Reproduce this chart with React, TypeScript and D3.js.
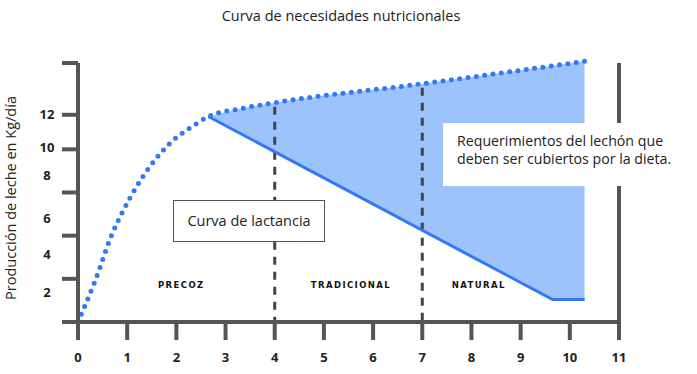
import React, { useEffect, useRef } from "react";
import * as d3 from "d3";

// Requirement curve (dotted), [age in weeks, kg/day]
const requirement: [number, number][] = [
  [0, 0],
  [0.35, 2.4],
  [0.68, 5.0],
  [1.06, 7.2],
  [1.46, 9.0],
  [1.87, 10.35],
  [2.42, 11.5],
  [2.65, 11.9],
  [3.3, 12.35],
  [4, 12.7],
  [7, 13.8],
  [10.3, 15.1],
];

// Lactation curve (solid)
const lactation: [number, number][] = [
  [2.65, 11.9],
  [9.65, 1.3],
  [10.3, 1.3],
];

const xTicks = [0, 1, 2, 3, 4, 5, 6, 7, 8, 9, 10, 11];
const yTickMarks = [2.5, 5, 7.5, 10, 12, 15];
const yLabels = ["2", "4", "6", "8", "10", "12"];
const yLabelAt = [1.7, 3.9, 6.0, 8.5, 10.1, 12.0];
const phaseBreaks = [4, 7];
const phases = ["PRECOZ", "TRADICIONAL", "NATURAL"];
const phaseAt = [2.1, 5.55, 8.15];

const W = 697;
const H = 374;
const AXIS = "#555555";
const BLUE = "#3479f3";
const FILL = "#9dc3fd";
const FONT = "'Open Sans', 'Noto Sans', sans-serif";

const Chart: React.FC = () => {
  const svgRef = useRef<SVGSVGElement | null>(null);

  useEffect(() => {
    const svg = d3.select(svgRef.current);
    svg.selectAll("*").remove();

    const x = d3.scaleLinear().domain([0, 11]).range([78, 619]);
    const y = d3.scaleLinear().domain([0, 15]).range([322, 63]);

    // title
    svg
      .append("text")
      .attr("x", 341)
      .attr("y", 21)
      .attr("text-anchor", "middle")
      .attr("font-family", FONT)
      .attr("font-size", 14.5)
      .attr("fill", "#222")
      .text("Curva de necesidades nutricionales");

    // y axis title
    svg
      .append("text")
      .attr("transform", "translate(16,198) rotate(-90)")
      .attr("text-anchor", "middle")
      .attr("font-family", FONT)
      .attr("font-size", 14.5)
      .attr("fill", "#222")
      .text("Producción de leche en Kg/día");

    // filled gap between requirement and lactation
    const start = lactation[0][0];
    const topPts = requirement.filter((d) => d[0] >= start);
    const top = d3
      .line<[number, number]>()
      .x((d) => x(d[0]))
      .y((d) => y(d[1]))
      .curve(d3.curveMonotoneX)(topPts) as string;
    const bottom = [...lactation].reverse();
    const fillPath =
      top +
      bottom.map((d) => `L${x(d[0])},${y(d[1])}`).join("") +
      "Z";
    svg.append("path").attr("d", fillPath).attr("fill", FILL);

    // dashed phase dividers
    const reqAt = d3
      .scaleLinear()
      .domain(requirement.map((d) => d[0]))
      .range(requirement.map((d) => d[1]));
    svg
      .selectAll(".divider")
      .data(phaseBreaks)
      .enter()
      .append("line")
      .attr("x1", (d) => x(d))
      .attr("x2", (d) => x(d))
      .attr("y1", (d) => y(reqAt(d)) + 4)
      .attr("y2", y(0))
      .attr("stroke", "#444")
      .attr("stroke-width", 3)
      .attr("stroke-dasharray", "8 7");

    // lactation line
    svg
      .append("path")
      .attr(
        "d",
        d3
          .line<[number, number]>()
          .x((d) => x(d[0]))
          .y((d) => y(d[1]))(lactation) as string
      )
      .attr("fill", "none")
      .attr("stroke", BLUE)
      .attr("stroke-width", 3);

    // dotted requirement curve
    svg
      .append("path")
      .attr(
        "d",
        d3
          .line<[number, number]>()
          .x((d) => x(d[0]))
          .y((d) => y(d[1]))
          .curve(d3.curveMonotoneX)(requirement) as string
      )
      .attr("fill", "none")
      .attr("stroke", BLUE)
      .attr("stroke-width", 5)
      .attr("stroke-linecap", "round")
      .attr("stroke-dasharray", "0 8.4");

    // axes
    const axes = svg.append("g").attr("stroke", AXIS).attr("stroke-width", 4);
    axes
      .append("line")
      .attr("x1", 62)
      .attr("x2", x(11) + 2)
      .attr("y1", y(0))
      .attr("y2", y(0));
    axes
      .append("line")
      .attr("x1", x(0))
      .attr("x2", x(0))
      .attr("y1", y(15))
      .attr("y2", y(0) + 18);
    axes
      .selectAll(".xt")
      .data(xTicks)
      .enter()
      .append("line")
      .attr("x1", (d) => x(d))
      .attr("x2", (d) => x(d))
      .attr("y1", (d) => (d === 11 ? y(15) : y(0)))
      .attr("y2", y(0) + 18);
    axes
      .selectAll(".yt")
      .data(yTickMarks)
      .enter()
      .append("line")
      .attr("x1", 62)
      .attr("x2", x(0))
      .attr("y1", (d) => y(d))
      .attr("y2", (d) => y(d));

    svg
      .selectAll(".xl")
      .data(xTicks)
      .enter()
      .append("text")
      .attr("x", (d) => x(d))
      .attr("y", 362)
      .attr("text-anchor", "middle")
      .attr("font-family", FONT)
      .attr("font-weight", 700)
      .attr("font-size", 13)
      .attr("fill", "#222")
      .text((d) => d);

    svg
      .selectAll(".yl")
      .data(yLabels)
      .enter()
      .append("text")
      .attr("x", 47)
      .attr("y", (d, i) => y(yLabelAt[i]))
      .attr("dy", "0.35em")
      .attr("text-anchor", "middle")
      .attr("font-family", FONT)
      .attr("font-weight", 700)
      .attr("font-size", 13)
      .attr("fill", "#222")
      .text((d) => d);

    // phase names
    svg
      .selectAll(".ph")
      .data(phases)
      .enter()
      .append("text")
      .attr("x", (d, i) => x(phaseAt[i]))
      .attr("y", 285)
      .attr("dy", "0.35em")
      .attr("text-anchor", "middle")
      .attr("font-family", "'DejaVu Sans', sans-serif")
      .attr("font-weight", 700)
      .attr("font-size", 8.5)
      .attr("letter-spacing", 1.4)
      .attr("fill", "#111")
      .text((d) => d);

    // "Curva de lactancia" box
    svg
      .append("rect")
      .attr("x", 173.5)
      .attr("y", 200.5)
      .attr("width", 151)
      .attr("height", 41)
      .attr("fill", "#fff")
      .attr("stroke", "#555")
      .attr("stroke-width", 1);
    svg
      .append("text")
      .attr("x", 249)
      .attr("y", 221)
      .attr("dy", "0.35em")
      .attr("text-anchor", "middle")
      .attr("font-family", FONT)
      .attr("font-size", 14.5)
      .attr("fill", "#222")
      .text("Curva de lactancia");

    // requirements note
    svg
      .append("rect")
      .attr("x", 443)
      .attr("y", 123)
      .attr("width", 254)
      .attr("height", 63)
      .attr("fill", "#fff");
    const note = svg
      .append("text")
      .attr("font-family", FONT)
      .attr("font-size", 14.2)
      .attr("fill", "#222");
    note
      .append("tspan")
      .attr("x", 457)
      .attr("y", 146)
      .text("Requerimientos del lechón que");
    note
      .append("tspan")
      .attr("x", 457)
      .attr("y", 164)
      .text("deben ser cubiertos por la dieta.");
  }, []);

  return (
    <svg
      ref={svgRef}
      width={W}
      height={H}
      style={{ position: "absolute", left: 0, top: 0, background: "#fff" }}
    />
  );
};

export default function App() {
  return <Chart />;
}
